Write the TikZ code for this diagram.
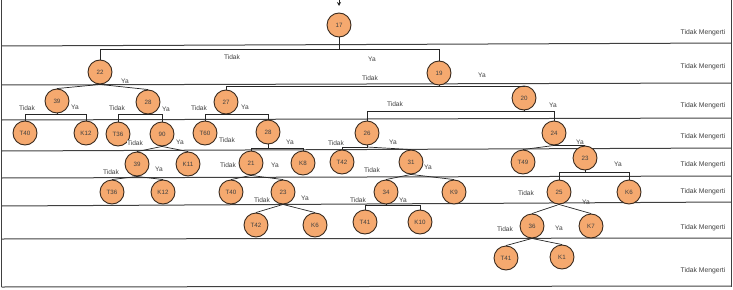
\documentclass[tikz,border=0pt]{standalone}
\usepackage{fontspec}
\setmainfont{Liberation Sans}
\usetikzlibrary{arrows.meta}
\definecolor{nodefill}{HTML}{F5A96F}
\definecolor{nodeline}{HTML}{3A2A1E}
\definecolor{labelgray}{HTML}{404040}
\definecolor{bandline}{HTML}{404040}
\tikzset{
  nd/.style={circle, draw=nodeline, fill=nodefill, line width=0.9pt,
    minimum size=24pt, inner sep=0pt, font=\fontsize{6.2}{7}\selectfont, text=labelgray},
  lbl/.style={font=\fontsize{6.6}{7}\selectfont, text=labelgray, inner sep=0.5pt},
  rowlbl/.style={font=\fontsize{6.8}{7}\selectfont, text=labelgray, inner sep=0pt},
  conn/.style={draw=black!85, line width=0.7pt},
  band/.style={draw=bandline, line width=1pt}
}
\begin{document}
\begin{tikzpicture}[x=1pt,y=-1pt]
\useasboundingbox (0,0) rectangle (733,289);

% frame and level bands
\draw[band] (1.5,0) -- (1.5,287);
\draw[band] (731,0) -- (731,287);
\draw[band] (1.5,46) -- (731,43);
\draw[band] (1.5,85) -- (731,83);
\draw[band] (1.5,120) -- (731,118);
\draw[band] (1.5,151) -- (731,148);
\draw[band] (1.5,178) -- (731,176);
\draw[band] (1.5,206) -- (731,202);
\draw[band] (1.5,239) -- (731,238);
\draw[band] (1.5,287) -- (731,286);

% level labels
\foreach \yy in {33,67,106,137,165,192,228,271}
  \node[rowlbl] at (703,\yy) {Tidak Mengerti};

% tree nodes
\node[nd] (n17) at (339,25) {17};
\node[nd] (n22) at (100,72) {22};
\node[nd] (n19) at (439,73) {19};
\node[nd] (n39a) at (57,101) {39};
\node[nd] (n28a) at (148,102) {28};
\node[nd] (n27) at (226,102) {27};
\node[nd] (n20) at (524,98) {20};
\node[nd] (t40a) at (25,133) {T40};
\node[nd] (k12a) at (86,133) {K12};
\node[nd] (t36a) at (118,134) {T36};
\node[nd] (n90) at (162,134) {90};
\node[nd] (t60) at (205,133) {T60};
\node[nd] (n28b) at (268,132) {28};
\node[nd] (n26) at (367,133) {26};
\node[nd] (n24) at (554,133) {24};
\node[nd] (n39b) at (137,164) {39};
\node[nd] (k11) at (188,164) {K11};
\node[nd] (n21) at (251,163) {21};
\node[nd] (k8) at (303,163) {K8};
\node[nd] (t42a) at (342,162) {T42};
\node[nd] (n31) at (411,162) {31};
\node[nd] (t49) at (523,162) {T49};
\node[nd] (n23a) at (585,158) {23};
\node[nd] (t36b) at (112,192) {T36};
\node[nd] (k12b) at (163,192) {K12};
\node[nd] (t40b) at (231,192) {T40};
\node[nd] (n23b) at (283,192) {23};
\node[nd] (n34) at (386,192) {34};
\node[nd] (k9) at (454,192) {K9};
\node[nd] (n25) at (559,192) {25};
\node[nd] (k6a) at (629,192) {K6};
\node[nd] (t42b) at (256,225) {T42};
\node[nd] (k6b) at (315,225) {K6};
\node[nd] (t41a) at (365,222) {T41};
\node[nd] (k10) at (420,222) {K10};
\node[nd] (n36) at (532,226) {36};
\node[nd] (k7) at (591,226) {K7};
\node[nd] (t41b) at (506,258) {T41};
\node[nd] (k1) at (562,257) {K1};

% entry arrow
\coordinate (entry) at (339,0);
\coordinate (entryend) at (339,6);
\draw[conn, -{Stealth[length=4pt,width=4pt]}] (entry) -- (entryend);

% junction points of the bracket connectors
\coordinate (j17) at (339,49);
\coordinate (j19) at (439,86);
\coordinate (j39a) at (57,114);
\coordinate (j28a) at (148,114);
\coordinate (j27) at (226,114);
\coordinate (j20) at (524,111);
\coordinate (j28b) at (268,148);
\coordinate (j26) at (367,147);
\coordinate (j23a) at (585,172);
\coordinate (j34) at (386,205);

% connectors
\draw[conn] (n17.south) -- (j17) -| (n22.north);
\draw[conn] (j17) -| (n19.north);
\draw[conn] (n22.south) -- (n39a.north);
\draw[conn] (n22.south) -- (n28a.north);
\draw[conn] (n19.south) -- (j19) -| (n27.north);
\draw[conn] (j19) -| (n20.north);
\draw[conn] (n39a.south) -- (j39a) -| (t40a.north);
\draw[conn] (j39a) -| (k12a.north);
\draw[conn] (n28a.south) -- (j28a) -| (t36a.north);
\draw[conn] (j28a) -| (n90.north);
\draw[conn] (n27.south) -- (j27) -| (t60.north);
\draw[conn] (j27) -| (n28b.north);
\draw[conn] (n20.south) -- (j20) -| (n26.north);
\draw[conn] (j20) -| (n24.north);
\draw[conn] (n90.south) -- (n39b.north);
\draw[conn] (n90.south) -- (k11.north);
\draw[conn] (n28b.south) -- (j28b) -| (n21.north);
\draw[conn] (j28b) -| (k8.north);
\draw[conn] (n26.south) -- (j26) -| (t42a.north);
\draw[conn] (j26) -- (n31.north);
\draw[conn] (n24.south) -- (t49.north);
\draw[conn] (n24.south) -- (n23a.north);
\draw[conn] (n23a.south) -- (j23a) -| (n25.north);
\draw[conn] (j23a) -| (k6a.north);
\draw[conn] (n39b.south) -- (t36b.north);
\draw[conn] (n39b.south) -- (k12b.north);
\draw[conn] (n21.south) -- (t40b.north);
\draw[conn] (n21.south) -- (n23b.north);
\draw[conn] (n31.south) -- (n34.north);
\draw[conn] (n31.south) -- (k9.north);
\draw[conn] (n23b.south) -- (t42b.north);
\draw[conn] (n23b.south) -- (k6b.north);
\draw[conn] (n34.south) -- (j34) -| (t41a.north);
\draw[conn] (j34) -| (k10.north);
\draw[conn] (n25.south) -- (n36.north);
\draw[conn] (n25.south) -- (k7.north);
\draw[conn] (n36.south) -- (t41b.north);
\draw[conn] (n36.south) -- (k1.north);

% branch labels
\node[lbl] at (232,57) {Tidak};
\node[lbl] at (372,59) {Ya};
\node[lbl] at (125,81) {Ya};
\node[lbl] at (370,78) {Tidak};
\node[lbl] at (482,75) {Ya};
\node[lbl] at (27,108) {Tidak};
\node[lbl] at (75,107) {Ya};
\node[lbl] at (117,108) {Tidak};
\node[lbl] at (166,109) {Ya};
\node[lbl] at (199,108) {Tidak};
\node[lbl] at (245,107) {Ya};
\node[lbl] at (395,104) {Tidak};
\node[lbl] at (553,105) {Ya};
\node[lbl, fill=white] at (135,143) {Tidak};
\node[lbl] at (180,142) {Ya};
\node[lbl] at (227,140) {Tidak};
\node[lbl] at (290,142) {Ya};
\node[lbl] at (336,143) {Tidak};
\node[lbl] at (393,142) {Ya};
\node[lbl] at (580,142) {Ya};
\node[lbl] at (618,164) {Ya};
\node[lbl] at (228,165) {Tidak};
\node[lbl] at (275,165) {Ya};
\node[lbl] at (372,170) {Tidak};
\node[lbl] at (428,167) {Ya};
\node[lbl] at (111,172) {Tidak};
\node[lbl] at (159,169) {Ya};
\node[lbl] at (262,200) {Tidak};
\node[lbl] at (305,198) {Ya};
\node[lbl] at (358,200) {Tidak};
\node[lbl] at (403,200) {Ya};
\node[lbl] at (526,193) {Tidak};
\node[lbl] at (586,202) {Ya};
\node[lbl] at (505,229) {Tidak};
\node[lbl] at (559,228) {Ya};
\end{tikzpicture}
\end{document}
